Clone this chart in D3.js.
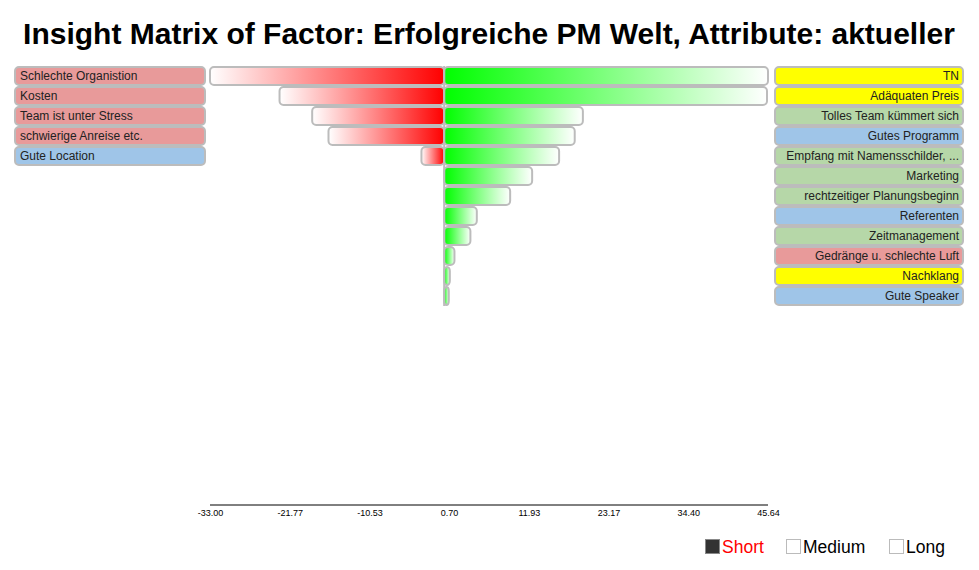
<!DOCTYPE html>
<html><head><meta charset="utf-8">
<script src="https://cdn.jsdelivr.net/npm/d3@7"></script>
<style>
html,body{margin:0;padding:0;background:#fff;}
svg{display:block;font-family:"Liberation Sans",Arial,Helvetica,sans-serif;}
</style></head>
<body>
<svg id="chart" width="979" height="570"></svg>
<script>
const title = "Insight Matrix of Factor: Erfolgreiche PM Welt, Attribute: aktueller";

const negLabels = ["Schlechte Organistion", "Kosten", "Team ist unter Stress", "schwierige Anreise etc.", "Gute Location"];
const negValues = [-33.0, -23.2, -18.6, -16.3, -3.2];
const negGroups = ["red", "red", "red", "red", "blue"];

const posLabels = ["TN", "Adäquaten Preis", "Tolles Team kümmert sich", "Gutes Programm",
  "Empfang mit Namensschilder, ...", "Marketing", "rechtzeitiger Planungsbeginn", "Referenten",
  "Zeitmanagement", "Gedränge u. schlechte Luft", "Nachklang", "Gute Speaker"];
const posValues = [45.64, 45.5, 19.55, 18.4, 16.2, 12.4, 9.3, 4.6, 3.7, 1.45, 0.8, 0.65];
const posGroups = ["yellow", "yellow", "green", "blue", "green", "green", "green", "blue",
  "green", "red", "yellow", "blue"];

const tickValues = [-33.00, -21.77, -10.53, 0.70, 11.93, 23.17, 34.40, 45.64];
const legendLabels = ["Short", "Medium", "Long"];

const groupColor = d3.scaleOrdinal()
  .domain(["red", "blue", "green", "yellow"])
  .range(["#e89a9a", "#9fc5e8", "#b6d7a8", "#ffff00"]);

const svg = d3.select("#chart");
const defs = svg.append("defs");
const gNeg = defs.append("linearGradient").attr("id", "gradNeg")
  .attr("x1", "0%").attr("x2", "100%").attr("y1", "0%").attr("y2", "0%");
gNeg.append("stop").attr("offset", "0%").attr("stop-color", "#ffffff");
gNeg.append("stop").attr("offset", "100%").attr("stop-color", "#ff0000");
const gPos = defs.append("linearGradient").attr("id", "gradPos")
  .attr("x1", "0%").attr("x2", "100%").attr("y1", "0%").attr("y2", "0%");
gPos.append("stop").attr("offset", "0%").attr("stop-color", "#00ff00");
gPos.append("stop").attr("offset", "100%").attr("stop-color", "#ffffff");

svg.append("text").attr("x", 489).attr("y", 44).attr("text-anchor", "middle")
  .attr("font-size", 30).attr("font-weight", "bold").attr("fill", "#000").text(title);

const x = d3.scaleLinear().domain([-33, 45.64]).range([210, 768]);
const y = d3.scaleBand().domain(d3.range(posLabels.length)).range([66, 306]).padding(0);

const stroke = "#bcbcbc";

// negative bars
svg.append("g").selectAll("rect").data(negValues).join("rect")
  .attr("x", d => x(d)).attr("y", (d, i) => y(i) + 1)
  .attr("width", d => x(0) - x(d)).attr("height", y.bandwidth() - 2)
  .attr("rx", 4).attr("ry", 4)
  .attr("fill", "url(#gradNeg)").attr("stroke", stroke).attr("stroke-width", 2);

// positive bars
svg.append("g").selectAll("rect").data(posValues).join("rect")
  .attr("x", x(0)).attr("y", (d, i) => y(i) + 1)
  .attr("width", d => x(d) - x(0)).attr("height", y.bandwidth() - 2)
  .attr("rx", 4).attr("ry", 4)
  .attr("fill", "url(#gradPos)").attr("stroke", stroke).attr("stroke-width", 2);

// zero line
svg.append("line").attr("x1", x(0)).attr("x2", x(0))
  .attr("y1", y.range()[0]).attr("y2", y.range()[1])
  .attr("stroke", stroke).attr("stroke-width", 2);

// left labels
const lg = svg.append("g").selectAll("g").data(negLabels).join("g");
lg.append("rect").attr("x", 15).attr("y", (d, i) => y(i) + 1)
  .attr("width", 190).attr("height", y.bandwidth() - 2).attr("rx", 4).attr("ry", 4)
  .attr("fill", (d, i) => groupColor(negGroups[i])).attr("stroke", stroke).attr("stroke-width", 2);
lg.append("text").attr("x", 20).attr("y", (d, i) => y(i) + y.bandwidth() / 2 + 4)
  .attr("font-size", 12).attr("fill", "#222").text(d => d);

// right labels
const rg = svg.append("g").selectAll("g").data(posLabels).join("g");
rg.append("rect").attr("x", 775).attr("y", (d, i) => y(i) + 1)
  .attr("width", 188).attr("height", y.bandwidth() - 2).attr("rx", 4).attr("ry", 4)
  .attr("fill", (d, i) => groupColor(posGroups[i])).attr("stroke", stroke).attr("stroke-width", 2);
rg.append("text").attr("x", 959).attr("y", (d, i) => y(i) + y.bandwidth() / 2 + 4)
  .attr("text-anchor", "end")
  .attr("font-size", 12).attr("fill", "#222").text(d => d);

// axis
const fmt = d3.format(".2f");
const axis = d3.axisBottom(x).tickValues(tickValues).tickSize(0).tickPadding(5)
  .tickFormat(d => fmt(d).replace("\u2212", "-"));
const ag = svg.append("g").attr("transform", "translate(0,505)").call(axis);
ag.select(".domain").attr("stroke", "#000").attr("d", `M${x.range()[0]},0H${x.range()[1]}`);
ag.selectAll("text").attr("font-size", 9).attr("font-family", "\"Liberation Sans\",Arial,sans-serif").attr("fill", "#000");

// legend
const legX = [705, 786, 889];
const legG = svg.append("g").selectAll("g").data(legendLabels).join("g")
  .attr("transform", (d, i) => `translate(${legX[i]},539)`);
legG.append("rect").attr("x", 0.5).attr("y", 0.5).attr("width", 14).attr("height", 14)
  .attr("fill", (d, i) => i === 0 ? "#333" : "#fff")
  .attr("stroke", (d, i) => i === 0 ? "#888" : "#bbb").attr("stroke-width", 1);
legG.append("text").attr("x", 17).attr("y", 13.5).attr("font-size", 17.5)
  .attr("fill", (d, i) => i === 0 ? "#ff0000" : "#000").text(d => d);
</script>
</body></html>
